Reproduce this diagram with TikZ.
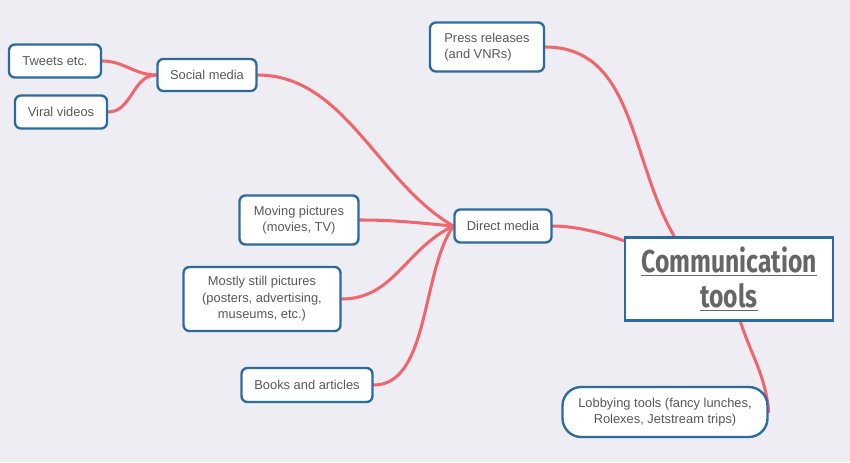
\documentclass[tikz,border=0pt]{standalone}
\usepackage{fontspec}
\setmainfont{Liberation Sans}
\newfontfamily\titlefont[FakeStretch=0.78]{Fira Sans}
\usepackage{tikz}
\usetikzlibrary{backgrounds}
\definecolor{bgc}{HTML}{EEEDF3}
\definecolor{boxc}{HTML}{2C6BA0}
\definecolor{linkc}{HTML}{EE676C}
\definecolor{txtc}{HTML}{585858}
\definecolor{titlec}{HTML}{666666}

\begin{document}
\begin{tikzpicture}[x=0.03cm, y=-0.03cm,
  topic/.style={draw=boxc, fill=white, line width=2pt, rounded corners=5pt, inner sep=2pt,
    align=center, text=txtc, font=\fontsize{11}{14}\selectfont},
  link/.style={linkc, line width=2.6pt, line cap=round}]
% background, fixes the margins
\useasboundingbox (0,0) rectangle (850,462);
% leaves and branches
\node[topic, minimum width=2.76cm, minimum height=0.99cm] (tweets) at (55,61) {Tweets etc.};
\node[topic, minimum width=2.76cm, minimum height=0.99cm] (viral) at (61,112) {Viral videos};
\node[topic, minimum width=2.97cm, minimum height=0.96cm] (social) at (207,75) {Social media};
\node[topic, minimum width=3.42cm, minimum height=1.47cm, align=left] (press) at (487,47) {Press releases\\(and VNRs)};
\node[topic, minimum width=2.91cm, minimum height=0.99cm] (direct) at (503,226) {Direct media};
\node[topic, minimum width=3.57cm, minimum height=1.47cm] (moving) at (299,220) {Moving pictures\\(movies, TV)};
\node[topic, minimum width=4.71cm, minimum height=1.92cm] (still) at (262,299) {Mostly still pictures\\(posters, advertising,\\museums, etc.)};
\node[topic, minimum width=3.93cm, minimum height=1.02cm] (books) at (307,385) {Books and articles};
\node[topic, minimum width=6.15cm, minimum height=1.5cm, rounded corners=16pt] (lobby) at (665,412) {Lobbying tools (fancy lunches,\\Rolexes, Jetstream trips)};
% central topic
\node[draw=boxc, fill=white, line width=2.4pt, minimum width=6.24cm, minimum height=2.49cm, align=center,
  text=titlec, font=\titlefont\bfseries\fontsize{27}{30}\selectfont] (comm) at (729,279)
  {\underline{Communication}\\\underline{tools}};
\begin{pgfonlayer}{background}
\fill[bgc] (0,0) rectangle (850,462);
\draw[link] (tweets.east) to[out=0, in=180] (social.west);
\draw[link] (viral.east) to[out=0, in=180] (social.west);
\draw[link] (social.east) to[out=0, in=150, looseness=0.9] (direct.west);
\draw[link] (moving.east) to[out=0, in=175] (direct.west);
\draw[link] (still.east) to[out=0, in=205] (direct.west);
\draw[link] (books.east) to[out=0, in=235, looseness=0.8] (direct.west);
\draw[link] (direct.east) to[out=0, in=160, looseness=0.8] (comm.160);
\draw[link] (press.east) to[out=0, in=120] (comm.142);
\draw[link] (comm.285) to[out=-72, in=95] (lobby.east);
\end{pgfonlayer}
\end{tikzpicture}
\end{document}
